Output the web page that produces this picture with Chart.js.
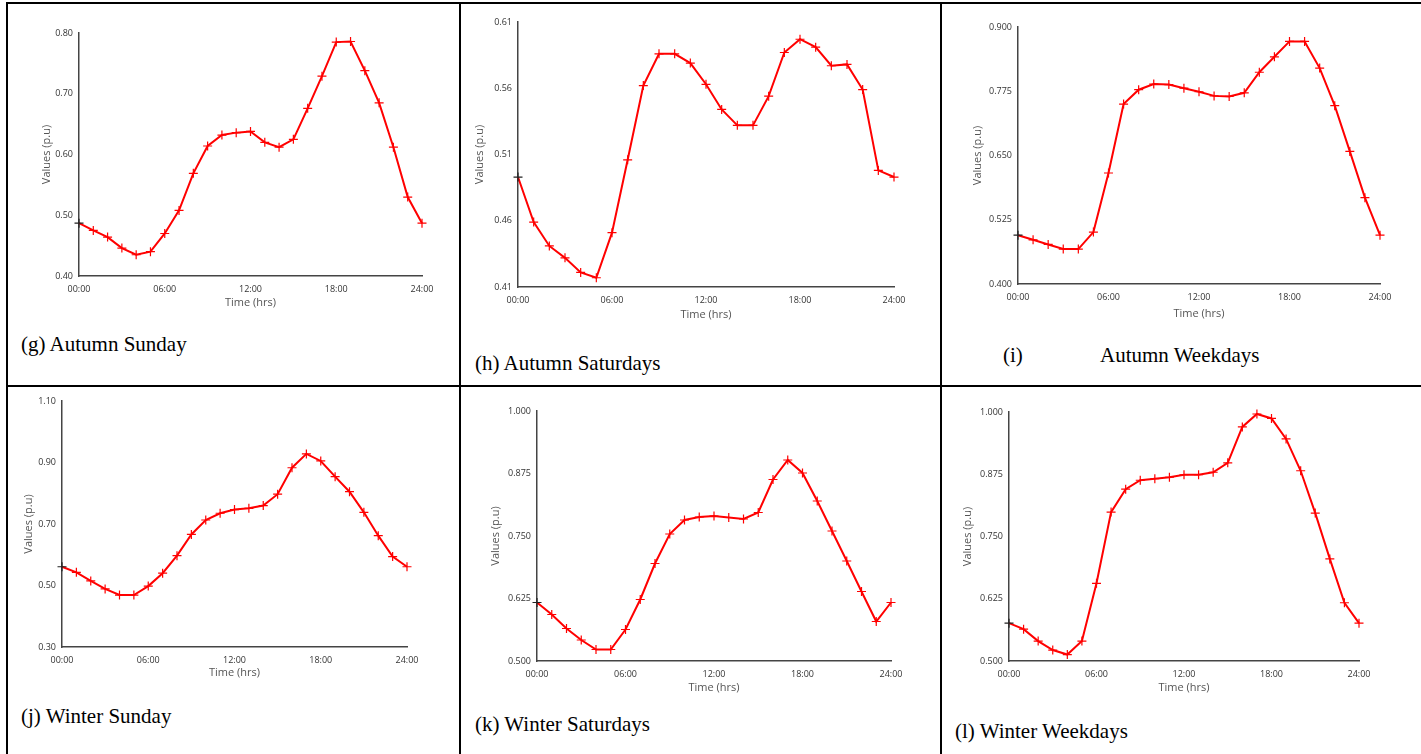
<!DOCTYPE html>
<html>
<head>
<meta charset="utf-8">
<script src="https://cdn.jsdelivr.net/npm/chart.js@4.4.1/dist/chart.umd.min.js"></script>
<style>
  body { margin: 0; background: #fff; }
  #page { position: relative; width: 1421px; height: 754px; overflow: hidden; background: #fff; }
  .rule { position: absolute; background: #000; }
  .caption { position: absolute; font-family: "Liberation Serif", "Times New Roman", serif; font-size: 21px; line-height: 24px; color: #000; white-space: nowrap; }
  canvas { position: absolute; }
</style>
</head>
<body>
<div id="page">
  <div class="rule" style="left:6px;top:2px;width:1415px;height:2px"></div>
  <div class="rule" style="left:6px;top:385px;width:1415px;height:2px"></div>
  <div class="rule" style="left:6px;top:2px;width:2px;height:752px"></div>
  <div class="rule" style="left:459px;top:2px;width:2px;height:752px"></div>
  <div class="rule" style="left:940px;top:2px;width:2px;height:752px"></div>

  <div class="caption" style="left:21px;top:332px">(g) Autumn Sunday</div>
  <div class="caption" style="left:475px;top:351px">(h) Autumn Saturdays</div>
  <div class="caption" style="left:1003px;top:343px">(i)</div>
  <div class="caption" style="left:1100px;top:343px">Autumn Weekdays</div>
  <div class="caption" style="left:21px;top:704px">(j) Winter Sunday</div>
  <div class="caption" style="left:475px;top:712px">(k) Winter Saturdays</div>
  <div class="caption" style="left:955px;top:719px">(l) Winter Weekdays</div>
</div>
<script>
// hourly load profiles (p.u), 00:00 .. 24:00
const hours = [0, 1, 2, 3, 4, 5, 6, 7, 8, 9, 10, 11, 12, 13, 14, 15, 16, 17, 18, 19, 20, 21, 22, 23, 24];

const autumnSunday = [0.487, 0.475, 0.464, 0.446, 0.435, 0.440, 0.470, 0.508, 0.569, 0.614, 0.632, 0.636, 0.638,
  0.620, 0.612, 0.625, 0.676, 0.729, 0.785, 0.786, 0.738, 0.685, 0.612, 0.530, 0.487];
const autumnSaturdays = [0.493, 0.459, 0.441, 0.432, 0.421, 0.417, 0.451, 0.506, 0.562, 0.586, 0.586, 0.579, 0.563,
  0.544, 0.532, 0.532, 0.554, 0.587, 0.597, 0.591, 0.577, 0.578, 0.559, 0.498, 0.493];
const autumnWeekdays = [0.495, 0.486, 0.477, 0.468, 0.468, 0.501, 0.616, 0.750, 0.778, 0.789, 0.788, 0.781, 0.774,
  0.766, 0.765, 0.772, 0.812, 0.842, 0.872, 0.872, 0.820, 0.747, 0.658, 0.568, 0.495];
const winterSunday = [0.561, 0.543, 0.515, 0.489, 0.469, 0.469, 0.498, 0.540, 0.597, 0.666, 0.713, 0.735, 0.747,
  0.751, 0.760, 0.797, 0.883, 0.928, 0.905, 0.854, 0.805, 0.738, 0.662, 0.594, 0.561];
const winterSaturdays = [0.617, 0.593, 0.565, 0.542, 0.523, 0.523, 0.563, 0.623, 0.695, 0.754, 0.782, 0.788, 0.790,
  0.787, 0.784, 0.797, 0.863, 0.902, 0.876, 0.820, 0.760, 0.700, 0.639, 0.579, 0.617];
const winterWeekdays = [0.576, 0.564, 0.540, 0.522, 0.513, 0.540, 0.656, 0.799, 0.845, 0.863, 0.866, 0.869, 0.874,
  0.874, 0.879, 0.898, 0.970, 0.996, 0.987, 0.946, 0.882, 0.797, 0.705, 0.617, 0.576];

const xTickValues = [0, 6, 12, 18, 24];
const xTickLabels = ['00:00', '06:00', '12:00', '18:00', '24:00'];

const gYTicks = ['0.40', '0.50', '0.60', '0.70', '0.80'];
const hYTicks = ['0.41', '0.46', '0.51', '0.56', '0.61'];
const iYTicks = ['0.400', '0.525', '0.650', '0.775', '0.900'];
const jYTicks = ['0.30', '0.50', '0.70', '0.90', '1.10'];
const kYTicks = ['0.500', '0.625', '0.750', '0.875', '1.000'];
const lYTicks = ['0.500', '0.625', '0.750', '0.875', '1.000'];

Chart.defaults.font.family = '"Open Sans", "DejaVu Sans", sans-serif';

// plot boxes on the page: left, top, right, bottom, y-title offset, x-title offset
const panels = [
  { values: autumnSunday,    yTicks: gYTicks, box: [79, 33, 422, 276],   ytDx: 32, xtDy: 26 },
  { values: autumnSaturdays, yTicks: hYTicks, box: [518, 22, 894, 287],  ytDx: 38, xtDy: 27 },
  { values: autumnWeekdays,  yTicks: iYTicks, box: [1018, 27, 1380, 284], ytDx: 40, xtDy: 29 },
  { values: winterSunday,    yTicks: jYTicks, box: [62, 401, 407, 647],  ytDx: 33, xtDy: 25 },
  { values: winterSaturdays, yTicks: kYTicks, box: [537, 411, 891, 661], ytDx: 41, xtDy: 26 },
  { values: winterWeekdays,  yTicks: lYTicks, box: [1009, 412, 1359, 661], ytDx: 41, xtDy: 26 }
];

const page = document.getElementById('page');
const padTop = 12, padRight = 26;

panels.forEach(p => {
  const [L, T, R, B] = p.box;
  const yw = Math.round(p.ytDx + 7.6);
  const xh = Math.round(p.xtDy + 7.6);
  const canvas = document.createElement('canvas');
  canvas.width = R - L + yw + padRight;
  canvas.height = B - T + padTop + xh;
  canvas.style.left = (L - yw) + 'px';
  canvas.style.top = (T - padTop) + 'px';
  page.appendChild(canvas);

  const yVals = p.yTicks.map(Number);

  new Chart(canvas, {
    type: 'line',
    data: {
      datasets: [{
        data: hours.map((h, i) => ({ x: h, y: p.values[i] })),
        borderColor: '#ff0000',
        borderWidth: 2,
        tension: 0,
        pointStyle: 'cross',
        pointRadius: 4.5,
        pointBorderWidth: 1.2,
        pointBorderColor: ctx => ctx.dataIndex === 0 ? '#222' : '#ff0000',
        clip: false
      }]
    },
    options: {
      responsive: false,
      animation: false,
      events: [],
      layout: { padding: { top: padTop, right: padRight, left: 0, bottom: 0 } },
      plugins: { legend: { display: false }, tooltip: { enabled: false } },
      scales: {
        x: {
          type: 'linear',
          min: 0,
          max: 24,
          grid: { display: false, drawTicks: false },
          border: { color: '#444', width: 1.5 },
          afterBuildTicks: s => { s.ticks = xTickValues.map(v => ({ value: v })); },
          afterFit: s => { s.height = xh; },
          ticks: {
            autoSkip: false, maxRotation: 0, padding: 8,
            color: '#333', font: { size: 9 },
            callback: (v, i) => xTickLabels[i]
          },
          title: {
            display: true, text: 'Time (hrs)', color: '#555',
            font: { size: 11 }, padding: { top: 0, bottom: 1 }
          }
        },
        y: {
          type: 'linear',
          min: yVals[0],
          max: yVals[yVals.length - 1],
          grid: { display: false, drawTicks: false },
          border: { color: '#444', width: 1.5 },
          afterBuildTicks: s => { s.ticks = yVals.map(v => ({ value: v })); },
          afterFit: s => { s.width = yw; },
          ticks: {
            autoSkip: false, padding: 6,
            color: '#333', font: { size: 9 },
            callback: (v, i) => p.yTicks[i]
          },
          title: {
            display: true, text: 'Values (p.u)', color: '#555',
            font: { size: 11 }, padding: { top: 1, bottom: 0 }
          }
        }
      }
    }
  });
});
</script>
</body>
</html>
